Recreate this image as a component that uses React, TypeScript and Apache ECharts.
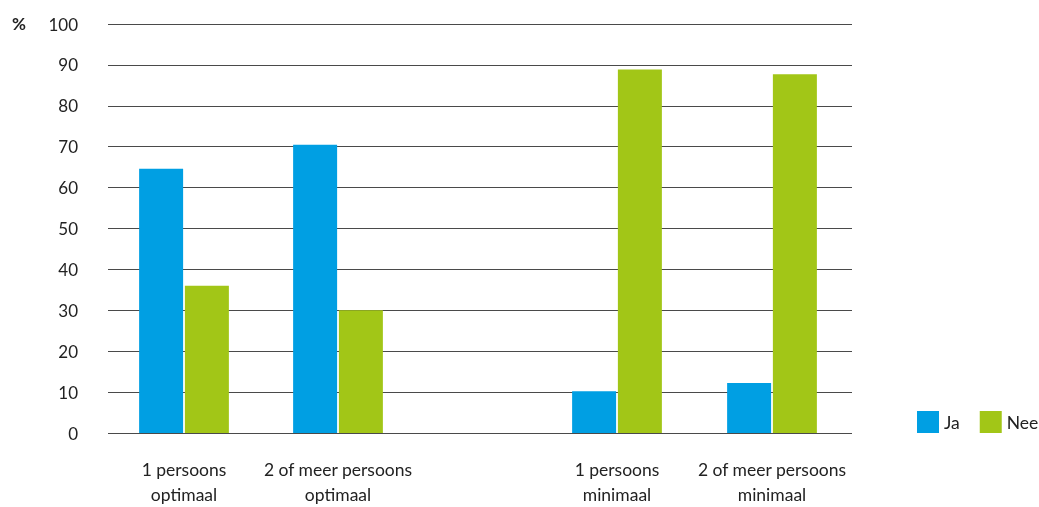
import React, { useEffect, useRef } from "react";
import * as echarts from "echarts";

// Household types, split into the "optimaal" and "minimaal" blocks
const optimaalCategories = ["1 persoons\noptimaal", "2 of meer persoons\noptimaal"];
const minimaalCategories = ["1 persoons\nminimaal", "2 of meer persoons\nminimaal"];

// Share of respondents (%) per household type
const jaOptimaal = [64.6, 70.5];
const neeOptimaal = [36.0, 30.0];
const jaMinimaal = [10.2, 12.2];
const neeMinimaal = [88.9, 87.7];

const yTicks = [0, 10, 20, 30, 40, 50, 60, 70, 80, 90, 100];

const BLUE = "#009fe3";
const GREEN = "#a2c617";
const FONT = "Lato, 'Open Sans', sans-serif";
const TEXT = "#222";

export default function App() {
  const ref = useRef<HTMLDivElement>(null);

  useEffect(() => {
    if (!ref.current) return;
    const chart = echarts.init(ref.current, undefined, { renderer: "svg" });

    const top = 24;
    const bottom = 74;
    const hiddenY = (gridIndex: number) => ({
      type: "value" as const,
      gridIndex,
      min: yTicks[0],
      max: yTicks[yTicks.length - 1],
      interval: 10,
      show: false,
    });
    const catX = (gridIndex: number, data: string[]) => ({
      type: "category" as const,
      gridIndex,
      data,
      axisLine: { show: false },
      axisTick: { show: false },
      axisLabel: {
        interval: 0,
        margin: 24,
        fontSize: 17.5,
        lineHeight: 25,
        color: TEXT,
        fontFamily: FONT,
      },
    });
    const bar = (name: string, color: string, idx: number, data: number[]) => ({
      name,
      type: "bar" as const,
      xAxisIndex: idx,
      yAxisIndex: idx,
      data,
      barWidth: 44,
      barGap: "4%",
      itemStyle: { color },
    });

    chart.setOption({
      animation: false,
      textStyle: { fontFamily: FONT },
      legend: {
        orient: "horizontal",
        left: 917,
        top: 411,
        width: 130,
        padding: 0,
        itemWidth: 22,
        itemHeight: 22,
        itemGap: 20,
        icon: "rect",
        textStyle: { fontSize: 17.5, color: TEXT, fontFamily: FONT },
        data: ["Ja", "Nee"],
      },
      graphic: [
        {
          type: "text",
          left: 12,
          top: 15,
          style: { text: "%", fontSize: 17, fontWeight: "bold", fill: TEXT, fontFamily: FONT },
        },
      ],
      grid: [
        { left: 108, right: 187, top, bottom },
        { left: 107, width: 308, top, bottom },
        { left: 539.5, width: 310, top, bottom },
      ],
      xAxis: [
        { type: "category", gridIndex: 0, data: [""], show: false },
        catX(1, optimaalCategories),
        catX(2, minimaalCategories),
      ],
      yAxis: [
        {
          type: "value",
          gridIndex: 0,
          min: yTicks[0],
          max: yTicks[yTicks.length - 1],
          interval: 10,
          axisLine: { show: false },
          axisTick: { show: false },
          axisLabel: { fontSize: 17, color: TEXT, margin: 30, fontFamily: FONT },
          splitLine: { lineStyle: { color: "#4a4a4a", width: 1 } },
        },
        hiddenY(1),
        hiddenY(2),
      ],
      series: [
        bar("Ja", BLUE, 1, jaOptimaal),
        bar("Nee", GREEN, 1, neeOptimaal),
        bar("Ja", BLUE, 2, jaMinimaal),
        bar("Nee", GREEN, 2, neeMinimaal),
      ],
    });

    return () => chart.dispose();
  }, []);

  return (
    <div
      ref={ref}
      style={{ position: "fixed", left: 0, top: 0, width: 1039, height: 507 }}
    />
  );
}
